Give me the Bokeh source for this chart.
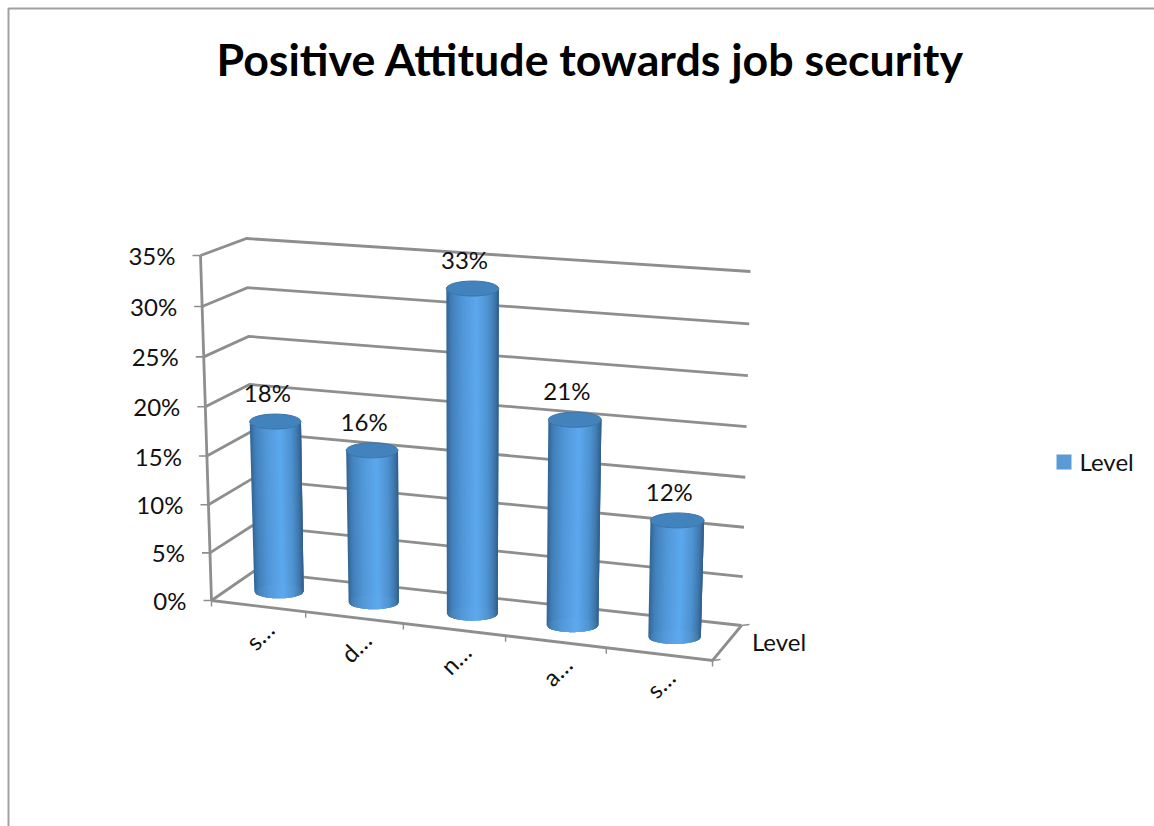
from math import pi, sqrt

from bokeh.core.properties import value
from bokeh.embed import file_html
from bokeh.models import Range1d
from bokeh.plotting import figure
from bokeh.resources import INLINE

# Chart content
TITLE = "Positive Attitude towards job security"
SERIES_NAME = "Level"
CATEGORIES = ["s…", "d…", "n…", "a…", "s…"]
PERCENT = [18, 16, 33, 21, 12]
AXIS_TICKS = [0, 5, 10, 15, 20, 25, 30, 35]
AXIS_MAX = 35

WIDTH, HEIGHT = 1154, 826

# Page positions of the corners of the 3D box: (front/back, left/right, floor/ceiling)
FRONT_LEFT = ((211, 600), (200, 255))
FRONT_RIGHT = ((712, 660), (723, 300))
BACK_LEFT = ((253, 571), (246, 238))
BACK_RIGHT = ((741, 625), (750, 271))

# Perspective spacing of the category boundaries along the width of the box
CATEGORY_EDGES = [0.0, 0.188, 0.383, 0.587, 0.788, 1.0]
HEIGHT_BOW = 0.04

GREY = "#8e8e8e"
FONT = value("Lato")
LABEL_SIZE = "24px"


def lerp(a, b, t):
    return (a[0] + (b[0] - a[0]) * t, a[1] + (b[1] - a[1]) * t)


def height_fraction(v):
    f = v / AXIS_MAX
    return f - HEIGHT_BOW * f * (1 - f)


def project(u, v, z):
    """Map width u (0-1), value v (percent) and depth z (0 front, 1 back) to the page."""
    h = height_fraction(v)
    front = lerp(lerp(*FRONT_LEFT, h), lerp(*FRONT_RIGHT, h), u)
    back = lerp(lerp(*BACK_LEFT, h), lerp(*BACK_RIGHT, h), u)
    return lerp(front, back, z)


def mix(c0, c1, t):
    return tuple(c0[i] + (c1[i] - c0[i]) * t for i in range(3))


# Horizontal shading across a cylinder, left edge to right edge
SHADE = [
    (0.00, (50, 100, 146)),
    (0.10, (66, 128, 186)),
    (0.30, (80, 150, 215)),
    (0.58, (92, 168, 238)),
    (0.80, (78, 146, 208)),
    (0.93, (62, 118, 170)),
    (1.00, (46, 92, 136)),
]


def shade(t):
    for (t0, c0), (t1, c1) in zip(SHADE, SHADE[1:]):
        if t <= t1:
            r, g, b = mix(c0, c1, (t - t0) / (t1 - t0))
            return "#%02x%02x%02x" % (round(r), round(g), round(b))
    return "#2e5c88"


p = figure(
    width=WIDTH,
    height=HEIGHT,
    x_range=Range1d(0, WIDTH),
    y_range=Range1d(HEIGHT, 0),
    output_backend="svg",
    toolbar_location=None,
    min_border=0,
    outline_line_color=None,
)
p.axis.visible = False
p.grid.visible = False

# Chart-area border, open towards the right and the bottom
p.line([8, 8, WIDTH], [HEIGHT, 8, 8], line_color="#a0a0a0", line_width=2)

# Gridlines over the left and back walls
for v in AXIS_TICKS:
    xs, ys = zip(project(0, v, 0), project(0, v, 1), project(1, v, 1))
    tx, ty = project(0, v, 0)
    p.line(list(xs), list(ys), line_color=GREY, line_width=2.8, line_join="miter")
    p.line([tx - 8, tx], [ty, ty], line_color=GREY, line_width=1.6)

# Value axis and the floor edges
fx, fy = zip(project(0, 0, 0), project(0, AXIS_MAX, 0))
p.line(list(fx), list(fy), line_color=GREY, line_width=2.8)
fx, fy = zip(project(0, 0, 0), project(1, 0, 0), project(1, 0, 1))
p.line(list(fx), list(fy), line_color=GREY, line_width=2.8, line_join="miter")

for edge in CATEGORY_EDGES:
    tx, ty = project(edge, 0, 0)
    p.line([tx, tx], [ty, ty + 6], line_color=GREY, line_width=1.4)
for depth in (0, 1):
    tx, ty = project(1, 0, depth)
    p.line([tx, tx + 8], [ty, ty - 1], line_color=GREY, line_width=1.4)

# Value axis labels
p.text(
    [project(0, v, 0)[0] - 25 for v in AXIS_TICKS],
    [project(0, v, 0)[1] for v in AXIS_TICKS],
    text=[f"{v}%" for v in AXIS_TICKS],
    text_font=FONT,
    text_font_size=LABEL_SIZE,
    text_color="#111111",
    text_align="right",
    text_baseline="middle",
)

# Cylinders
BASE_MINOR = 7
CAP_MINOR = 7.5
CAP_DROP = 2
STRIPS = 40

for i, pct in enumerate(PERCENT):
    u = (CATEGORY_EDGES[i] + CATEGORY_EDGES[i + 1]) / 2
    bx, by = project(u, 0, 0.5)
    cx, cy = project(u, pct, 0.5)
    cy += CAP_DROP
    half_base = 24.5 + 2 * u
    half_cap = 25.5 + 1.5 * u

    # Each strip runs two widths further right so the next one paints over its seam
    strip_xs, strip_ys, strip_colors = [], [], []
    for s in range(STRIPS):
        grid = [j / STRIPS for j in range(s, min(s + 3, STRIPS) + 1)]
        offsets = [2 * t - 1 for t in grid]
        bulge = [sqrt(max(0, 1 - a * a)) for a in offsets]
        strip_xs.append(
            [cx + a * half_cap for a in offsets] + [bx + a * half_base for a in reversed(offsets)]
        )
        strip_ys.append(
            [cy + CAP_MINOR * b for b in bulge] + [by + BASE_MINOR * b for b in reversed(bulge)]
        )
        strip_colors.append(shade((s + 0.5) / STRIPS))
    p.patches(strip_xs, strip_ys, fill_color=strip_colors, line_color=None)

    # Pale base ring and the darker top cap
    p.ellipse([bx], [by], width=2 * half_base, height=2 * BASE_MINOR, fill_color="#7cc0f5", fill_alpha=0.08, line_color=None)
    p.ellipse([cx], [cy], width=2 * half_cap, height=2 * CAP_MINOR, fill_color="#4282bd", line_color="#3a74a8", line_width=1)

    # Value label above the cylinder
    p.text(
        [cx - 8],
        [cy - 29],
        text=[f"{pct}%"],
        text_font=FONT,
        text_font_size=LABEL_SIZE,
        text_color="#111111",
        text_align="center",
        text_baseline="middle",
    )

    # Category label below the front edge
    lx, ly = project(u, 0, 0)
    p.text(
        [lx + 1],
        [ly + 29],
        text=[CATEGORIES[i]],
        angle=pi / 4,
        text_font=FONT,
        text_font_size=LABEL_SIZE,
        text_color="#111111",
        text_align="center",
        text_baseline="middle",
    )

# Depth axis label
sx, sy = lerp(project(1, 0, 0), project(1, 0, 1), 0.5)
p.text(
    [sx + 52],
    [sy - 2],
    text=[SERIES_NAME],
    text_font=FONT,
    text_font_size=LABEL_SIZE,
    text_color="#111111",
    text_align="center",
    text_baseline="middle",
)

# Title
p.text(
    [590],
    [58],
    text=[TITLE],
    text_font=FONT,
    text_font_style="bold",
    text_font_size="44.7px",
    text_color="#000000",
    text_align="center",
    text_baseline="middle",
)

# Legend
p.quad(left=[1056], right=[1071], top=[454], bottom=[469], fill_color="#5b9bd5", line_color=None)
p.text(
    [1079],
    [461],
    text=[SERIES_NAME],
    text_font=FONT,
    text_font_size=LABEL_SIZE,
    text_color="#111111",
    text_align="left",
    text_baseline="middle",
)

open("out.html", "w").write(file_html(p, INLINE))
